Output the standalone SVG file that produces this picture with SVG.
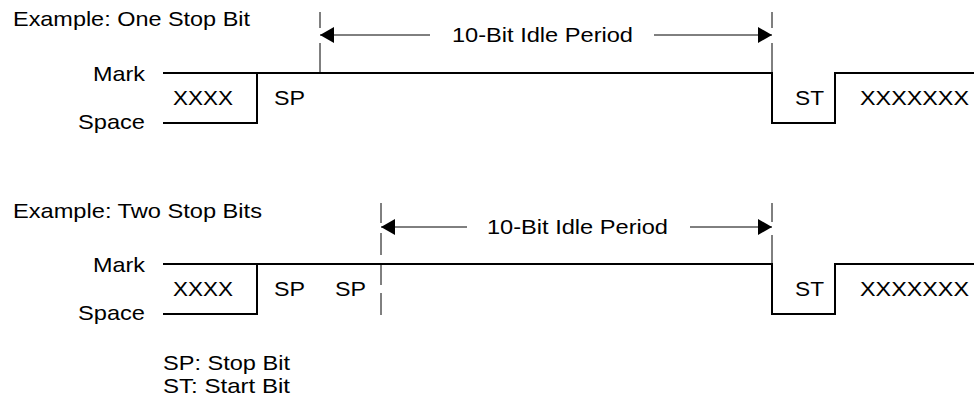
<svg xmlns="http://www.w3.org/2000/svg" width="974" height="407" viewBox="0 0 974 407">
<style>
text{font-family:"Liberation Sans",Arial,sans-serif;font-size:21px;fill:#000}
.r{text-anchor:end}
.sig{fill:none;stroke:#000;stroke-width:2}
.dash{stroke:#000;stroke-width:1;fill:none}
.arr{stroke:#000;stroke-width:1;fill:none}
</style>
<defs>
<marker id="ah" viewBox="0 0 14 16" refX="14" refY="8" markerWidth="14" markerHeight="16" markerUnits="userSpaceOnUse" orient="auto">
<path d="M0,0 L14,8 L0,16 Z" fill="#000"/>
</marker>
</defs>
<rect width="974" height="407" fill="#fff"/>
<g id="top">
<text x="13" y="26" textLength="237" lengthAdjust="spacingAndGlyphs">Example: One Stop Bit</text>
<text class="r" x="145" y="81" textLength="52" lengthAdjust="spacingAndGlyphs">Mark</text>
<text class="r" x="145" y="129" textLength="67" lengthAdjust="spacingAndGlyphs">Space</text>
<path class="sig" d="M163,73 H772 V123 H835 V73 H974"/>
<path class="sig" d="M163,123 H257 V73"/>
<text x="173" y="105" textLength="60" lengthAdjust="spacingAndGlyphs">XXXX</text>
<text x="274" y="105" textLength="31" lengthAdjust="spacingAndGlyphs">SP</text>
<text x="795" y="105" textLength="29" lengthAdjust="spacingAndGlyphs">ST</text>
<text x="860" y="105" textLength="109" lengthAdjust="spacingAndGlyphs">XXXXXXX</text>
</g>
<g id="bottom">
<text x="13" y="218" textLength="249" lengthAdjust="spacingAndGlyphs">Example: Two Stop Bits</text>
<text class="r" x="145" y="272" textLength="52" lengthAdjust="spacingAndGlyphs">Mark</text>
<text class="r" x="145" y="320" textLength="67" lengthAdjust="spacingAndGlyphs">Space</text>
<path class="sig" d="M163,264 H772 V314 H835 V264 H974"/>
<path class="sig" d="M163,314 H257 V264"/>
<text x="173" y="296" textLength="60" lengthAdjust="spacingAndGlyphs">XXXX</text>
<text x="274" y="296" textLength="31" lengthAdjust="spacingAndGlyphs">SP</text>
<text x="335" y="296" textLength="31" lengthAdjust="spacingAndGlyphs">SP</text>
<text x="795" y="296" textLength="29" lengthAdjust="spacingAndGlyphs">ST</text>
<text x="860" y="296" textLength="109" lengthAdjust="spacingAndGlyphs">XXXXXXX</text>
</g>
<g id="legend">
<text x="163" y="370" textLength="127" lengthAdjust="spacingAndGlyphs">SP: Stop Bit</text>
<text x="163" y="393" textLength="127" lengthAdjust="spacingAndGlyphs">ST: Start Bit</text>
</g>
<g id="connectors">
<path class="dash" d="M320,12 V28 M320,43 V73"/>
<path class="dash" d="M772,12 V28 M772,43 V73"/>
<path class="dash" d="M381,203 V223 M381,233 V255 M381,263 V285 M381,293 V315"/>
<path class="dash" d="M772,203 V222 M772,235 V264"/>
<line class="arr" x1="430" y1="35" x2="320" y2="35" marker-end="url(#ah)"/>
<line class="arr" x1="654" y1="35" x2="772" y2="35" marker-end="url(#ah)"/>
<text x="452" y="42" textLength="181" lengthAdjust="spacingAndGlyphs">10-Bit Idle Period</text>
<line class="arr" x1="467" y1="227" x2="381" y2="227" marker-end="url(#ah)"/>
<line class="arr" x1="690" y1="227" x2="772" y2="227" marker-end="url(#ah)"/>
<text x="487" y="234" textLength="181" lengthAdjust="spacingAndGlyphs">10-Bit Idle Period</text>
</g>
</svg>
